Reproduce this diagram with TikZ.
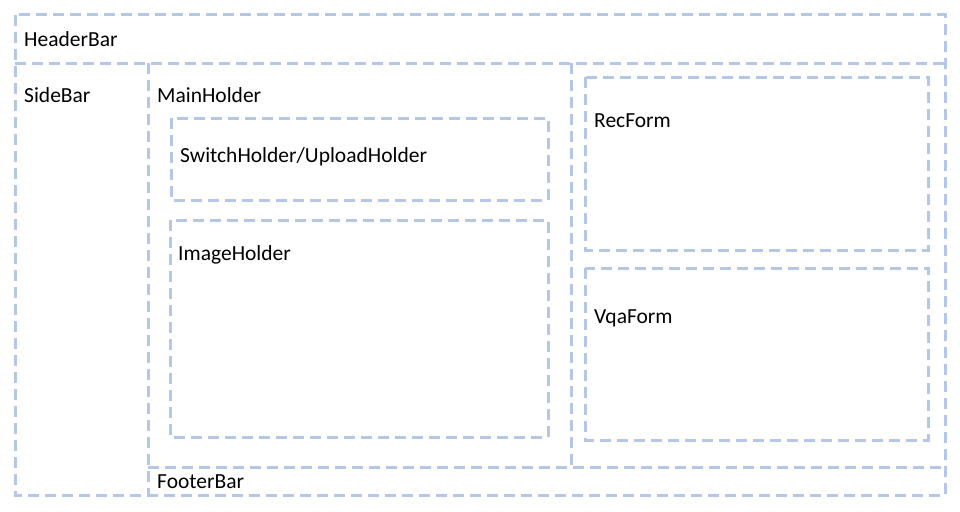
\documentclass[tikz,border=0pt]{standalone}
\usepackage{fontspec}
\setmainfont{Carlito}
\definecolor{boxblue}{HTML}{B4C7E7}
\tikzset{
	region/.style={draw=boxblue,line width=3pt,dash pattern=on 11pt off 6pt},
}
\begin{document}
\begin{tikzpicture}[x=1pt,y=-1pt]
			\useasboundingbox (0,0) rectangle (960,511);
			% outer regions
			\draw[region] (15,15) rectangle (945,495);
			\draw[region] (15,63) -- (945,63);
			\draw[region] (148,63) -- (148,495);
			\draw[region] (148,467) -- (945,467);
			\draw[region] (571,63) -- (571,467);
			
			% inner holders
			\draw[region] (171,118) rectangle (548,200);
			\draw[region] (170,220) rectangle (548,437);
			\draw[region] (585,77) rectangle (928,250);
			\draw[region] (585,268) rectangle (928,440);
			
			\begin{scope}[every node/.style={anchor=west,inner sep=0pt,font=\fontsize{21.5}{26}\selectfont}]
			\node (header) at (24,39)   {HeaderBar};
			\node (side)   at (24,95)   {SideBar};
			\node (main)   at (157,95)  {MainHolder};
			\node (switch) at (180,157) {SwitchHolder/UploadHolder};
			\node (image)  at (178,255) {ImageHolder};
			\node (rec)    at (594,121) {RecForm};
			\node (vqa)    at (594,318) {VqaForm};
			\node (footer) at (157,482) {FooterBar};
			\end{scope}
\end{tikzpicture}
\end{document}
